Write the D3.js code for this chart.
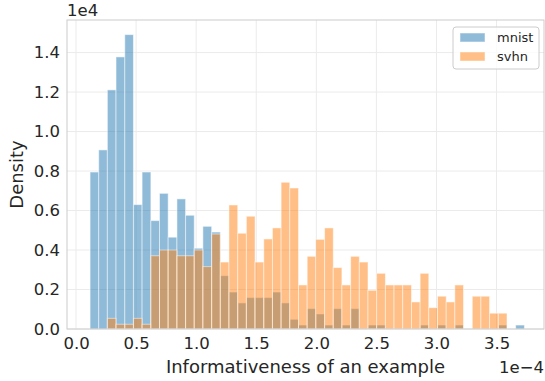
<!DOCTYPE html>
<html>
<head>
<meta charset="utf-8">
<script src="https://cdn.jsdelivr.net/npm/d3@7"></script>
<style>
  body { margin: 0; background: #fff; }
  svg { display: block; font-family: "DejaVu Sans", sans-serif; }
</style>
</head>
<body>
<div id="chart"></div>
<script>
// Bin edges (in units of 1e-4), shared by both histograms
const binEdges = [0.117, 0.189, 0.261, 0.333, 0.406, 0.478, 0.550, 0.623, 0.695, 0.767,
    0.840, 0.912, 0.984, 1.056, 1.129, 1.201, 1.273, 1.346, 1.418, 1.490,
    1.563, 1.635, 1.707, 1.779, 1.852, 1.924, 1.996, 2.069, 2.141, 2.213,
    2.286, 2.358, 2.430, 2.502, 2.575, 2.647, 2.719, 2.792, 2.864, 2.936,
    3.009, 3.081, 3.153, 3.225, 3.298, 3.370, 3.442, 3.515, 3.587, 3.659, 3.732];

// Densities (in units of 1e4)
const mnist = [0.795, 0.907, 1.211, 1.378, 1.491, 0.630, 0.795, 0.549, 0.687, 0.465,
    0.659, 0.576, 0.409, 0.520, 0.491, 0.270, 0.187, 0.132, 0.159, 0.159,
    0.159, 0.187, 0.132, 0.049, 0.020, 0.103, 0.076, 0.020, 0.103, 0.020,
    0.103, 0, 0.020, 0.020, 0, 0, 0, 0, 0.020, 0,
    0.020, 0, 0.020, 0, 0, 0, 0, 0.020, 0, 0.020];

const svhn = [0, 0, 0.054, 0.024, 0.024, 0.054, 0.024, 0.371, 0.400, 0.400,
    0.371, 0.371, 0.400, 0.316, 0.481, 0.339, 0.628, 0.485, 0.571, 0.339,
    0.456, 0.512, 0.743, 0.714, 0.223, 0.368, 0.454, 0.512, 0.311, 0.223,
    0.368, 0.339, 0.196, 0.282, 0.223, 0.223, 0.223, 0.137, 0.282, 0.108,
    0.166, 0.137, 0.223, 0, 0.166, 0.166, 0.080, 0.080, 0, 0];

const xTicks = [0, 0.5, 1.0, 1.5, 2.0, 2.5, 3.0, 3.5];
const yTicks = [0, 0.2, 0.4, 0.6, 0.8, 1.0, 1.2, 1.4];

const seriesNames = ["mnist", "svhn"];
const seriesColors = ["#1f77b4", "#ff7f0e"];

const W = 545, H = 381;
const plot = {left: 67, right: 544, top: 20, bottom: 329};

const svg = d3.select("#chart").append("svg")
    .attr("width", W)
    .attr("height", H);

const x = d3.scaleLinear()
    .domain([-0.075, 3.895])
    .range([plot.left, plot.right]);

const y = d3.scaleLinear()
    .domain([0, 1.565])
    .range([plot.bottom, plot.top]);

const textColor = "#262626";

// grid
svg.append("g")
    .selectAll("line")
    .data(xTicks)
    .join("line")
        .attr("x1", d => x(d)).attr("x2", d => x(d))
        .attr("y1", plot.top).attr("y2", plot.bottom)
        .attr("stroke", "#ebebeb")
        .attr("stroke-width", 1);

svg.append("g")
    .selectAll("line")
    .data(yTicks)
    .join("line")
        .attr("x1", plot.left).attr("x2", plot.right)
        .attr("y1", d => y(d)).attr("y2", d => y(d))
        .attr("stroke", "#ebebeb")
        .attr("stroke-width", 1);

// bars, mnist first then svhn on top
[mnist, svhn].forEach(function(values, s) {
    svg.append("g")
        .selectAll("rect")
        .data(values.map((v, i) => ({v: v, x0: binEdges[i], x1: binEdges[i + 1]})).filter(d => d.v > 0))
        .join("rect")
            .attr("x", d => x(d.x0))
            .attr("width", d => x(d.x1) - x(d.x0))
            .attr("y", d => y(d.v))
            .attr("height", d => y(0) - y(d.v))
            .attr("fill", seriesColors[s])
            .attr("fill-opacity", 0.5)
            .attr("stroke", "#fff")
            .attr("stroke-opacity", 0.5)
            .attr("stroke-width", 1);
});

// frame
svg.append("rect")
    .attr("x", plot.left)
    .attr("y", plot.top)
    .attr("width", plot.right - plot.left)
    .attr("height", plot.bottom - plot.top)
    .attr("fill", "none")
    .attr("stroke", "#cccccc")
    .attr("stroke-width", 1);

// x axis
const xAxis = svg.append("g")
    .attr("transform", `translate(0,${plot.bottom})`)
    .call(d3.axisBottom(x).tickValues(xTicks).tickSize(0).tickPadding(8).tickFormat(d3.format(".1f")));
xAxis.select(".domain").remove();
xAxis.selectAll("text")
    .attr("fill", textColor)
    .style("font-size", "16.5px")
    .style("font-family", "DejaVu Sans");

// y axis
const yAxis = svg.append("g")
    .attr("transform", `translate(${plot.left},0)`)
    .call(d3.axisLeft(y).tickValues(yTicks).tickSize(0).tickPadding(7).tickFormat(d3.format(".1f")));
yAxis.select(".domain").remove();
yAxis.selectAll("text")
    .attr("fill", textColor)
    .style("font-size", "16.5px")
    .style("font-family", "DejaVu Sans");

// offset texts
svg.append("text")
    .attr("x", plot.left)
    .attr("y", 16)
    .attr("fill", textColor)
    .style("font-size", "16.5px")
    .text("1e4");

svg.append("text")
    .attr("x", plot.right)
    .attr("y", 373)
    .attr("text-anchor", "end")
    .attr("fill", textColor)
    .style("font-size", "16.5px")
    .text("1e\u22124");

// axis labels
svg.append("text")
    .attr("x", (plot.left + plot.right) / 2)
    .attr("y", 373)
    .attr("text-anchor", "middle")
    .attr("fill", textColor)
    .style("font-size", "18px")
    .text("Informativeness of an example");

svg.append("text")
    .attr("transform", `translate(23,${(plot.top + plot.bottom) / 2}) rotate(-90)`)
    .attr("text-anchor", "middle")
    .attr("fill", textColor)
    .style("font-size", "18px")
    .text("Density");

// legend
const legend = svg.append("g").attr("transform", "translate(453,27)");
legend.append("rect")
    .attr("width", 86)
    .attr("height", 42)
    .attr("rx", 3)
    .attr("fill", "#fff")
    .attr("fill-opacity", 0.8)
    .attr("stroke", "#cccccc")
    .attr("stroke-width", 1);

seriesNames.forEach(function(name, i) {
    legend.append("rect")
        .attr("x", 7)
        .attr("y", 6 + i * 19)
        .attr("width", 25)
        .attr("height", 9)
        .attr("fill", seriesColors[i])
        .attr("fill-opacity", 0.5)
        .attr("stroke", "#fff")
        .attr("stroke-opacity", 0.5);
    legend.append("text")
        .attr("x", 44)
        .attr("y", 15 + i * 19)
        .attr("fill", textColor)
        .style("font-size", "13px")
        .text(name);
});
</script>
</body>
</html>
